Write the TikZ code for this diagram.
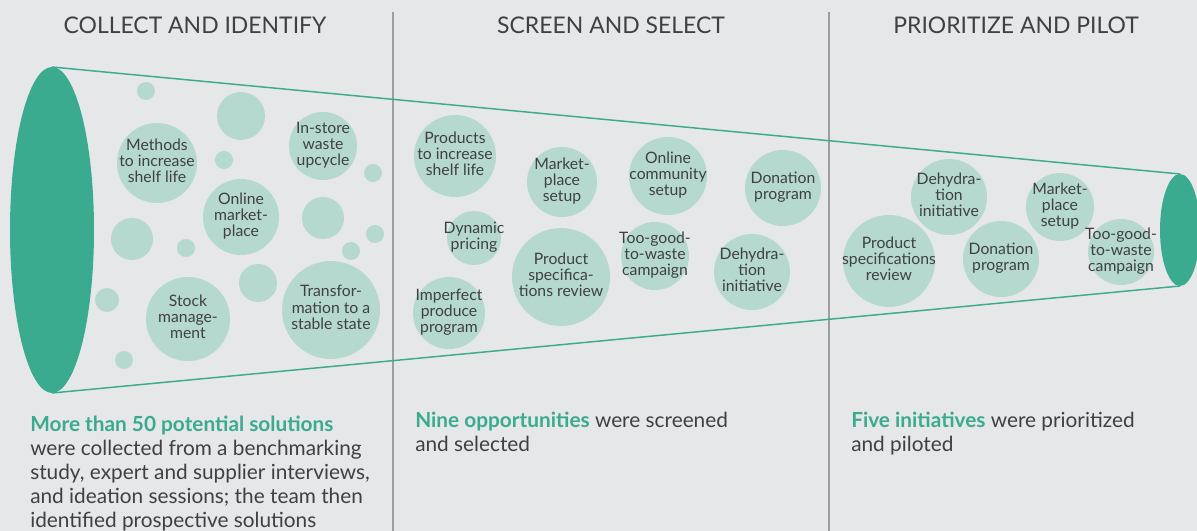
\documentclass[tikz,border=0pt]{standalone}
\usepackage{fontspec}
\setmainfont{Lato}
\usetikzlibrary{positioning}
\definecolor{fnbg}{HTML}{E6E7E9}
\definecolor{fngreen}{HTML}{3AAB8F}
\definecolor{fnbubble}{HTML}{B5D8CF}
\definecolor{fntext}{HTML}{3F4042}
\definecolor{fnrule}{HTML}{9C9EA0}
% zero-width label so the text may run past its circle
\newcommand{\bubtext}[1]{\hbox to 0pt{\hss\raisebox{-1.5pt}{\begin{tabular}{@{}c@{}}#1\end{tabular}}\hss}}

\begin{document}
\begin{tikzpicture}[
    x=0.75pt, y=-0.75pt,
    bubble/.style={circle, fill=fnbubble, minimum size=#1*1.5pt, inner sep=0pt,
        text=fntext, font=\fontsize{11.8}{12}\selectfont},
    stage/.style={font=\fontsize{17.2}{20}\selectfont, text=fntext},
    caption/.style={anchor=north west, align=left, inner sep=0pt, text=fntext,
        font=\fontsize{15.6}{18}\selectfont}
]

\useasboundingbox[fill=fnbg] (0,0) rectangle (1197,531);

% stage separators
\draw[fnrule, line width=1.1pt] (393,12) -- (393,531);
\draw[fnrule, line width=1.1pt] (829,12) -- (829,531);

% funnel
\coordinate (mouthtop) at (52,67);
\coordinate (mouthbot) at (52,393);
\coordinate (spouttop) at (1180,174);
\coordinate (spoutbot) at (1180,286);
\draw[fngreen, line width=1.1pt] (mouthtop) -- (spouttop);
\draw[fngreen, line width=1.1pt] (mouthbot) -- (spoutbot);
\fill[fngreen] (52,230) ellipse [x radius=42, y radius=163];
\fill[fngreen] (1180,230) ellipse [x radius=20, y radius=56];

\node[stage] (collect) at (195,25) {COLLECT AND IDENTIFY};
\node[stage] (screen) at (611,25) {SCREEN AND SELECT};
\node[stage] (prior) at (1016,25) {PRIORITIZE AND PILOT};

% unnamed ideas
\foreach \cx/\cy/\r in {146/91/9, 241/116/24, 224/160/9, 373/173/9, 132/239/21, 186/248/9,
    323/218/21, 375/234/9, 351/251/9, 258/283/19, 107/300/12, 124/360/9}
    \fill[fnbubble] (\cx,\cy) circle [radius=\r];

% collect and identify
\node[bubble=40] (shelf) at (157,163) {\bubtext{Methods\\to increase\\shelf life}};
\node[bubble=34] (upcycle) at (323,146) {\bubtext{In-store\\waste\\upcycle}};
\node[bubble=38] (online) at (241,217) {\bubtext{Online\\market-\\place}};
\node[bubble=42] (stock) at (188,319) {\bubtext{Stock\\manage-\\ment}};
\node[bubble=49] (stable) at (331,310) {\bubtext{Transfor-\\mation to a\\stable state}};

% screen and select
\node[bubble=41] (products) at (455,156) {\bubtext{Products\\to increase\\shelf life}};
\node[bubble=35] (market) at (562,182) {\bubtext{Market-\\place\\setup}};
\node[bubble=39] (community) at (668,176) {\bubtext{Online\\community\\setup}};
\node[bubble=38] (donation) at (783,188) {\bubtext{Donation\\program}};
\node[bubble=27] (pricing) at (474,238) {\bubtext{Dynamic\\pricing}};
\node[bubble=49] (specs) at (561,277) {\bubtext{Product\\specifica-\\tions review}};
\node[bubble=34] (toogood) at (655,256) {\bubtext{Too-good-\\to-waste\\campaign}};
\node[bubble=38] (dehyd) at (752,272) {\bubtext{Dehydra-\\tion\\initiative}};
\node[bubble=36] (imperfect) at (449,313) {\bubtext{Imperfect\\produce\\program}};

% prioritize and pilot
\node[bubble=38] (pdehyd) at (949,197) {\bubtext{Dehydra-\\tion\\initiative}};
\node[bubble=46] (pspecs) at (889,261) {\bubtext{Product\\specifications\\review}};
\node[bubble=38] (pdonation) at (1001,259) {\bubtext{Donation\\program}};
\node[bubble=34] (pmarket) at (1060,207) {\bubtext{Market-\\place\\setup}};
\node[bubble=33] (ptoogood) at (1121,252) {\bubtext{Too-good-\\to-waste\\campaign}};

% stage summaries
\node[caption] (collecttxt) at (30,416) {{\color{fngreen}\bfseries More than 50 potential solutions}\\
    were collected from a benchmarking\\study, expert and supplier interviews,\\
    and ideation sessions; the team then\\identified prospective solutions};
\node[caption] (screentxt) at (415,412) {{\color{fngreen}\bfseries Nine opportunities} were screened\\and selected};
\node[caption] (priortxt) at (851,412) {{\color{fngreen}\bfseries Five initiatives} were prioritized\\and piloted};

\end{tikzpicture}
\end{document}
